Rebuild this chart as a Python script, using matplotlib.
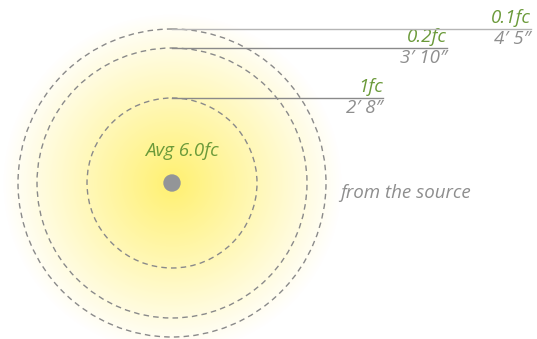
import numpy as np
import matplotlib
matplotlib.use('Agg')
import matplotlib.pyplot as plt
from matplotlib.patches import Circle

plt.rcParams['font.family'] = ['Open Sans', 'DejaVu Sans']

# light levels and how far from the source they are reached
levels = ['1fc', '0.2fc', '0.1fc']
distances = ['2\u2032 8\u2033', '3\u2032 10\u2033', '4\u2032 5\u2033']
radii = [85, 135, 154]          # circle radius in px
avg_label = 'Avg 6.0fc'

# layout (pixels)
cx, cy = 172, 183
line_ends = [383, 447, 531]
line_colors = ['#8a8a8a', '#8a8a8a', '#b5b5b5']
green = '#6b9a3a'
grey_txt = '#8e8e8e'
fs = 13.5

fig = plt.figure(figsize=(5.37, 3.39), dpi=100)
ax = fig.add_axes([0, 0, 1, 1])
ax.set_xlim(0, 537)
ax.set_ylim(339, 0)
ax.axis('off')

# yellow glow
yy, xx = np.mgrid[0:339, 0:537]
d = np.hypot(xx - cx, yy - cy) / 170.0
a = np.clip(1 - d, 0, 1) ** 1.0
glow = np.zeros((339, 537, 4))
glow[..., 0] = 1.0
glow[..., 1] = 0.94
glow[..., 2] = 0.38
glow[..., 3] = a * 0.9
ax.imshow(glow, extent=(0, 537, 339, 0), interpolation='bilinear', zorder=0)

for r, lvl, dist, xe, lc in zip(radii, levels, distances, line_ends, line_colors):
    ax.add_patch(Circle((cx, cy), r, fill=False, ec='#8a8a8a', lw=1.0,
                        ls=(0, (4, 3)), zorder=2))
    ax.plot([cx, xe], [cy - r, cy - r], color=lc, lw=1.0, zorder=3)
    ax.text(xe, cy - r - 2, lvl, color=green, fontsize=fs, style='italic',
            ha='right', va='bottom')
    ax.text(xe, cy - r + 1, dist, color=grey_txt, fontsize=fs, style='italic',
            ha='right', va='top')

ax.add_patch(Circle((cx, cy), 8, color='#939598', zorder=4))
ax.text(cx + 10, 151, avg_label, color=green, fontsize=fs, style='italic',
        ha='center', va='center')
ax.text(340, 193, 'from the source', color=grey_txt, fontsize=fs,
        style='italic', ha='left', va='center')

fig.savefig('out.png', dpi=100)
